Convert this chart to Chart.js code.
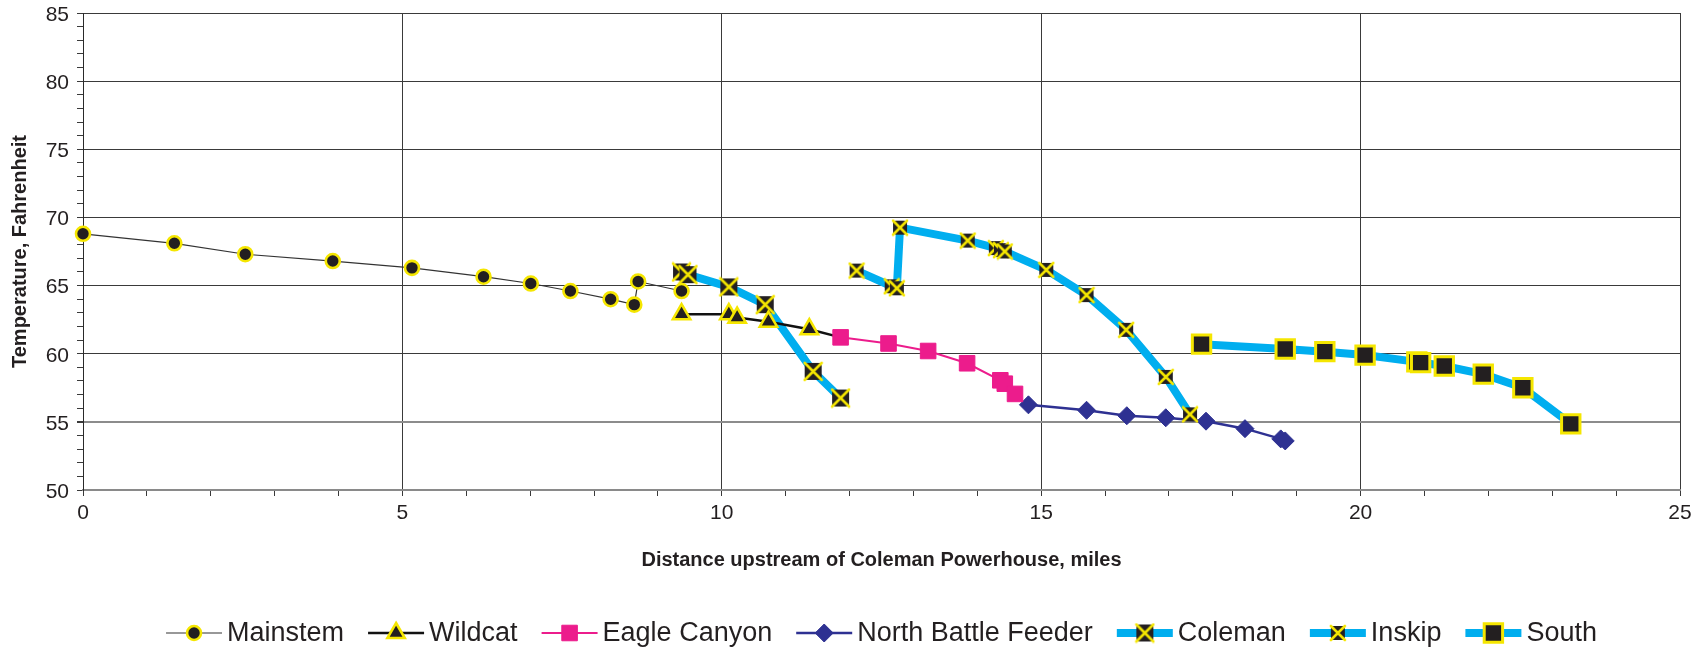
<!DOCTYPE html>
<html>
<head>
<meta charset="utf-8">
<title>Water temperature by distance upstream of Coleman Powerhouse</title>
<script src="https://cdn.jsdelivr.net/npm/chart.js@4.4.1/dist/chart.umd.min.js"></script>
<style>
  html, body { margin: 0; padding: 0; background: #ffffff; }
  #wrap { width: 1702px; height: 650px; }
</style>
</head>
<body>
<div id="wrap"><canvas id="chart" width="1702" height="650"></canvas></div>
<script>
// Distance upstream (miles) and temperature (°F) for each reach
const mainstemMiles = [0, 1.43, 2.54, 3.91, 5.15, 6.27, 7.01, 7.63, 8.26, 8.63, 8.69, 9.37];
const mainstemTemp  = [68.8, 68.1, 67.3, 66.8, 66.3, 65.65, 65.15, 64.6, 64.0, 63.6, 65.3, 64.6];

const wildcatMiles = [9.37, 10.11, 10.24, 10.73, 11.37, 11.86];
const wildcatTemp  = [62.9, 62.9, 62.65, 62.35, 61.8, 61.2];

const eagleMiles = [11.86, 12.61, 13.23, 13.84, 14.36, 14.43, 14.59];
const eagleTemp  = [61.2, 60.75, 60.2, 59.3, 58.05, 57.8, 57.05];

const feederMiles = [14.80, 15.71, 16.34, 16.95, 17.58, 18.19, 18.75, 18.82];
const feederTemp  = [56.25, 55.85, 55.45, 55.3, 55.05, 54.5, 53.75, 53.6];

const colemanMiles = [9.37, 9.47, 10.11, 10.68, 11.43, 11.86];
const colemanTemp  = [66.0, 65.8, 64.9, 63.6, 58.7, 56.75];

const inskipMiles = [12.11, 12.66, 12.74, 12.79, 13.85, 14.29, 14.37, 14.43, 15.08, 15.71, 16.33, 16.95, 17.33];
const inskipTemp  = [66.1, 64.95, 64.8, 69.25, 68.3, 67.75, 67.6, 67.5, 66.15, 64.3, 61.75, 58.3, 55.55];

const southMiles = [17.51, 18.82, 19.44, 20.07, 20.88, 20.94, 21.31, 21.92, 22.54, 23.29];
const southTemp  = [60.7, 60.35, 60.15, 59.9, 59.4, 59.35, 59.1, 58.5, 57.5, 54.85];

const seriesNames = ['Mainstem', 'Wildcat', 'Eagle Canyon', 'North Battle Feeder', 'Coleman', 'Inskip', 'South'];

const xAxisTitle = 'Distance upstream of Coleman Powerhouse, miles';
const yAxisTitle = 'Temperature, Fahrenheit';

const pairs = (xs, ys) => xs.map((x, i) => ({ x: x, y: ys[i] }));

const INK = '#231f20';
const YELLOW = '#F5E600';
const CYAN = '#00AEEF';

// Black square with a yellow X across it
function crossMarker(size) {
  const pad = 2;
  const c = document.createElement('canvas');
  c.width = size + pad * 2;
  c.height = size + pad * 2;
  const g = c.getContext('2d');
  g.fillStyle = INK;
  g.fillRect(pad, pad, size, size);
  g.strokeStyle = YELLOW;
  g.lineWidth = 2.6;
  g.lineCap = 'round';
  g.beginPath();
  g.moveTo(pad, pad); g.lineTo(pad + size, pad + size);
  g.moveTo(pad + size, pad); g.lineTo(pad, pad + size);
  g.stroke();
  return c;
}
const colemanMark = crossMarker(17);
const inskipMark = crossMarker(14);

// Wildcat joins Eagle Canyon at its last point, where no triangle is shown
const wildcatRadius = ctx => (ctx.dataIndex === wildcatMiles.length - 1 ? 0 : 10);

const datasets = [
  { label: seriesNames[0], data: pairs(mainstemMiles, mainstemTemp), order: 3,
    borderColor: '#333333', borderWidth: 1.2,
    pointStyle: 'circle', pointRadius: 7, pointBackgroundColor: INK, pointBorderColor: YELLOW, pointBorderWidth: 2.6 },
  { label: seriesNames[1], data: pairs(wildcatMiles, wildcatTemp), order: 2,
    borderColor: '#111111', borderWidth: 2.5,
    pointStyle: 'triangle', pointRadius: wildcatRadius, legendRadius: 10,
    pointBackgroundColor: INK, pointBorderColor: YELLOW, pointBorderWidth: 2.6 },
  { label: seriesNames[2], data: pairs(eagleMiles, eagleTemp), order: 1,
    borderColor: '#EC1C8C', borderWidth: 2,
    pointStyle: 'rect', pointRadius: 11, pointBackgroundColor: '#EC1C8C', pointBorderColor: '#EC1C8C', pointBorderWidth: 1 },
  { label: seriesNames[3], data: pairs(feederMiles, feederTemp), order: 6,
    borderColor: '#2E3192', borderWidth: 2.5,
    pointStyle: 'rectRot', pointRadius: 9, pointBackgroundColor: '#2E3192', pointBorderColor: '#2E3192', pointBorderWidth: 1 },
  { label: seriesNames[4], data: pairs(colemanMiles, colemanTemp), order: 5,
    borderColor: CYAN, borderWidth: 8,
    pointStyle: colemanMark, pointRadius: 9 },
  { label: seriesNames[5], data: pairs(inskipMiles, inskipTemp), order: 4,
    borderColor: CYAN, borderWidth: 8,
    pointStyle: inskipMark, pointRadius: 8 },
  { label: seriesNames[6], data: pairs(southMiles, southTemp), order: 7,
    borderColor: CYAN, borderWidth: 8,
    pointStyle: 'rect', pointRadius: 13, pointBackgroundColor: INK, pointBorderColor: YELLOW, pointBorderWidth: 3 }
];
datasets.forEach(d => {
  d.tension = 0;
  d.fill = false;
  d.clip = false;
  d.borderJoinStyle = 'round';
  d.pointHoverRadius = d.pointRadius;
});

// Draws a point marker the same way the series draw theirs
function drawMarker(ctx, ds, x, y) {
  const style = ds.pointStyle;
  const r = typeof ds.pointRadius === 'number' ? ds.pointRadius : ds.legendRadius;
  if (style instanceof HTMLCanvasElement) {
    ctx.drawImage(style, x - style.width / 2, y - style.height / 2);
    return;
  }
  ctx.save();
  ctx.fillStyle = ds.pointBackgroundColor;
  ctx.strokeStyle = ds.pointBorderColor;
  ctx.lineWidth = ds.pointBorderWidth;
  ctx.beginPath();
  if (style === 'circle') {
    ctx.arc(x, y, r, 0, Math.PI * 2);
  } else if (style === 'triangle') {
    ctx.moveTo(x, y - r);
    ctx.lineTo(x + Math.cos(Math.PI / 6) * r, y + Math.sin(Math.PI / 6) * r);
    ctx.lineTo(x - Math.cos(Math.PI / 6) * r, y + Math.sin(Math.PI / 6) * r);
    ctx.closePath();
  } else if (style === 'rect') {
    const s = r * Math.SQRT1_2;
    ctx.rect(x - s, y - s, 2 * s, 2 * s);
  } else if (style === 'rectRot') {
    ctx.moveTo(x, y - r); ctx.lineTo(x + r, y); ctx.lineTo(x, y + r); ctx.lineTo(x - r, y);
    ctx.closePath();
  }
  ctx.fill();
  if (ctx.lineWidth > 0) ctx.stroke();
  ctx.restore();
}

// Legend along the bottom: a short line sample with the marker in its middle
const lineLegend = {
  id: 'lineLegend',
  afterDraw(chart) {
    const ctx = chart.ctx;
    const font = '27px "Liberation Sans", Arial, sans-serif';
    const sample = 56, gapText = 5, gapItem = 24;
    ctx.save();
    ctx.font = font;
    const items = chart.data.datasets.map(ds => ({ ds: ds, w: ctx.measureText(ds.label).width }));
    const total = items.reduce((s, it) => s + sample + gapText + it.w, 0) + gapItem * (items.length - 1);
    const area = chart.chartArea;
    let x = (area.left + area.right) / 2 - total / 2;
    const y = 633;
    items.forEach(it => {
      const ds = it.ds;
      ctx.strokeStyle = ds.borderColor;
      ctx.lineWidth = ds.borderWidth;
      ctx.lineCap = 'butt';
      ctx.beginPath();
      ctx.moveTo(x, y);
      ctx.lineTo(x + sample, y);
      ctx.stroke();
      drawMarker(ctx, ds, x + sample / 2, y);
      ctx.fillStyle = INK;
      ctx.textAlign = 'left';
      ctx.textBaseline = 'middle';
      ctx.font = font;
      ctx.fillText(ds.label, x + sample + gapText, y + 1);
      x += sample + gapText + it.w + gapItem;
    });
    ctx.restore();
  }
};

const xTickFont = { family: '"Liberation Sans", Arial, sans-serif', size: 21 };
// a compact line height keeps the top label from pushing the plot down
const yTickFont = { family: '"Liberation Sans", Arial, sans-serif', size: 21, lineHeight: 0.4 };
const titleFont = { family: '"Liberation Sans", Arial, sans-serif', size: 20, weight: 'bold' };

new Chart(document.getElementById('chart'), {
  type: 'line',
  data: { datasets: datasets },
  plugins: [lineLegend],
  options: {
    responsive: false,
    devicePixelRatio: 1,
    animation: false,
    events: [],
    layout: { autoPadding: false, padding: { left: 0, right: 22, top: 13, bottom: 60 } },
    plugins: { legend: { display: false }, tooltip: { enabled: false } },
    scales: {
      x: {
        type: 'linear', min: 0, max: 25,
        afterFit(scale) { scale.height = 100; },
        ticks: {
          stepSize: 1, autoSkip: false, maxRotation: 0, padding: 5,
          color: INK, font: xTickFont,
          callback: v => (v % 5 === 0 ? String(v) : '')
        },
        grid: {
          drawOnChartArea: true, tickLength: 6,
          color: ctx => (ctx.tick && ctx.tick.value % 5 === 0 ? '#3a3a3a' : 'rgba(0,0,0,0)'),
          tickColor: '#3a3a3a', lineWidth: 1
        },
        border: { color: '#8a8a8a', width: 2 },
        title: { display: true, text: xAxisTitle, color: INK, font: titleFont, padding: { top: 0, bottom: 18 } }
      },
      y: {
        type: 'linear', min: 50, max: 85,
        afterFit(scale) { scale.width = 83; },
        ticks: {
          stepSize: 1, autoSkip: false, padding: 8, labelOffset: 2,
          color: INK, font: yTickFont,
          callback: v => (v % 5 === 0 ? String(v) : '')
        },
        grid: {
          drawOnChartArea: true, tickLength: 6,
          color: ctx => {
            const v = ctx.tick ? ctx.tick.value : 0;
            if (v % 5 !== 0) return 'rgba(0,0,0,0)';
            return v === 55 ? '#8c8c8c' : '#3a3a3a';
          },
          lineWidth: ctx => (ctx.tick && ctx.tick.value === 55 ? 2 : 1),
          tickColor: '#3a3a3a'
        },
        border: { color: '#2a2a2a', width: 1 },
        title: { display: true, text: yAxisTitle, color: INK, font: titleFont, padding: { top: 8, bottom: 0 } }
      }
    }
  }
});
</script>
</body>
</html>
